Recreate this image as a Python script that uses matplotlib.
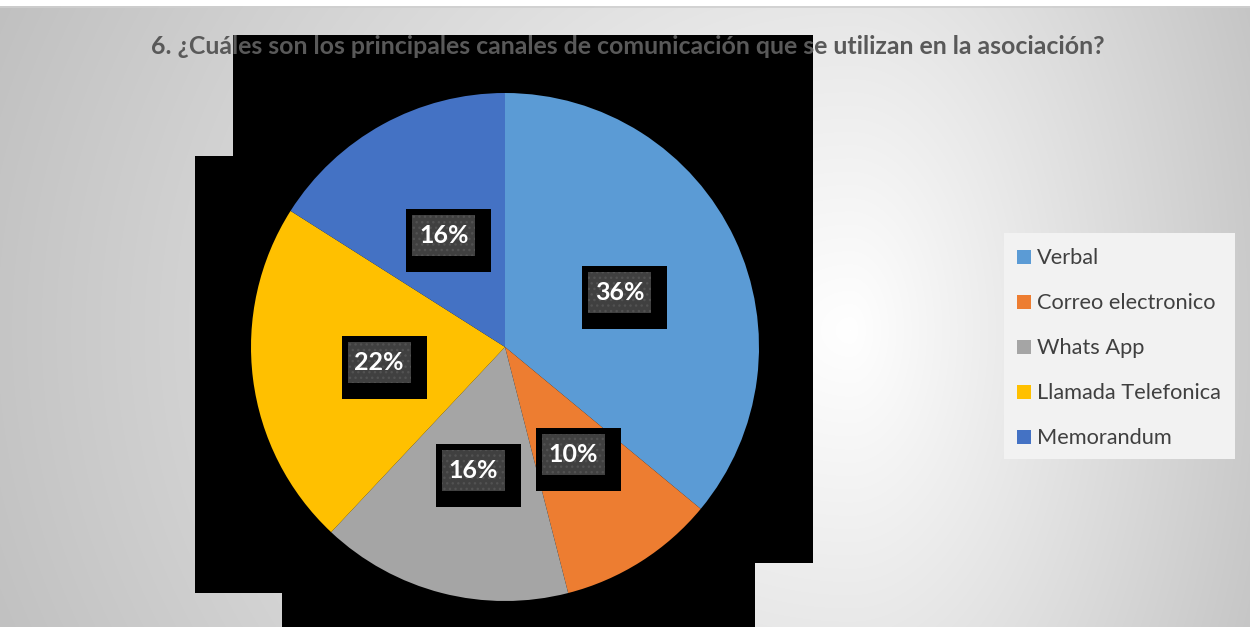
import numpy as np
import matplotlib
matplotlib.use("Agg")
import matplotlib.pyplot as plt
from matplotlib.patches import Rectangle

plt.rcParams['font.family'] = ['Lato', 'DejaVu Sans']
plt.rcParams['hatch.linewidth'] = 1.0

# --- data -------------------------------------------------------------
title = "6. ¿Cuáles son los principales canales de comunicación que se utilizan en la asociación?"
categories = ["Verbal", "Correo electronico", "Whats App", "Llamada Telefonica", "Memorandum"]
shares = [36, 10, 16, 22, 16]
colors = ["#5B9BD5", "#ED7D31", "#A5A5A5", "#FFC000", "#4472C4"]

W, H = 1250, 627
fig = plt.figure(figsize=(W / 100, H / 100), dpi=100)
fig.patch.set_facecolor("white")

# --- background layer in pixel coordinates ---------------------------
bg = fig.add_axes([0, 0, 1, 1])
bg.set_xlim(0, W)
bg.set_ylim(H, 0)
bg.axis("off")

yy, xx = np.mgrid[0:H, 0:W].astype(float)
sx = np.where(xx < 850, 1000.0, 520.0)
d = np.sqrt(((xx - 850) / sx) ** 2 + ((yy - 330) / 900.0) ** 2)
shade = 255 - 68 * np.clip(d, 0, 1)
shade[:6, :] = 255
grad = np.dstack([shade, shade, shade]) / 255.0
bg.imshow(grad, extent=(0, W, H, 0), zorder=0, interpolation="bilinear")
bg.plot([0, W], [6.5, 6.5], color="#cfcfcf", lw=1.2, zorder=1)

# dark panel behind the pie
for (x0, y0, x1, y1) in [(233, 35, 813, 563), (195, 156, 290, 593), (282, 300, 755, 627)]:
    bg.add_patch(Rectangle((x0, y0), x1 - x0, y1 - y0, facecolor="black",
                           edgecolor="none", zorder=2))

t = bg.text(628, 46, title, ha="center", va="center", fontsize=16,
            fontweight="bold", color="#595959", zorder=3)
fig.canvas.draw()
w = t.get_window_extent().width
t.set_fontsize(16 * 960 / w)

# --- legend --------------------------------------------------------------
bg.add_patch(Rectangle((1004, 233), 231, 226, facecolor="#F2F2F2",
                       edgecolor="none", zorder=2))
leg_texts = []
for i, (name, c) in enumerate(zip(categories, colors)):
    yc = 257 + 45 * i
    bg.add_patch(Rectangle((1017, yc - 7), 14, 14, facecolor=c,
                           edgecolor="none", zorder=3))
    leg_texts.append(bg.text(1037, yc + 1, name, ha="left", va="center",
                             fontsize=14, color="#404040", zorder=3))
fig.canvas.draw()
lw_ = leg_texts[1].get_window_extent().width
for lt in leg_texts:
    lt.set_fontsize(14 * 180 / lw_)

# --- pie -----------------------------------------------------------------
R = 254
cx_px, cy_px = 505, 347
ax = fig.add_axes([(cx_px - R) / W, (H - cy_px - R) / H, 2 * R / W, 2 * R / H])
ax.axis("off")

wedges, _, autotexts = ax.pie(
    shares, colors=colors, startangle=90, counterclock=False, radius=1,
    autopct="%.0f%%", pctdistance=0.5,
    wedgeprops=dict(linewidth=0),
    textprops=dict(color="white", fontsize=18, fontweight="bold"),
)
ax.set_xlim(-1, 1)
ax.set_ylim(-1, 1)

s = 1.0 / R
for at in autotexts:
    x, y = at.get_position()
    ax.add_patch(Rectangle((x - 37.5 * s, y - 36.5 * s), 85 * s, 63 * s,
                           facecolor="black", edgecolor="none", zorder=3))
    ax.add_patch(Rectangle((x - 31.5 * s, y - 20.5 * s), 63 * s, 41 * s,
                           facecolor="#404040", edgecolor="none", zorder=4))
    ax.add_patch(Rectangle((x - 31.5 * s, y - 20.5 * s), 63 * s, 41 * s,
                           facecolor="none", edgecolor="#525252", hatch="...",
                           linewidth=0, zorder=4.5))
    at.set_zorder(5)
    at.set_va("center")
    at.set_ha("center")

fig.savefig("out.png", dpi=100, facecolor=fig.get_facecolor())
